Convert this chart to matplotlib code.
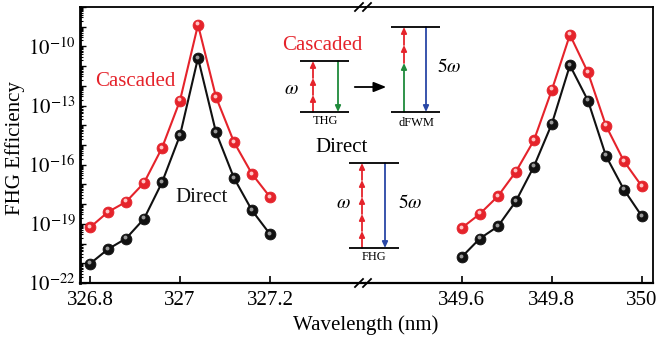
import matplotlib
matplotlib.use("Agg")
import matplotlib.pyplot as plt
import matplotlib.transforms as mtransforms
from matplotlib.ticker import FixedLocator, FuncFormatter, LogLocator, NullFormatter
from matplotlib.patches import FancyArrowPatch
import numpy as np

plt.rcParams.update({
    "font.family": "serif",
    "font.serif": ["Liberation Serif", "DejaVu Serif"],
    "mathtext.fontset": "stix",
    "font.size": 15,
})

# wavelength grids (nm)
wl_left = [326.80, 326.84, 326.88, 326.92, 326.96, 327.00, 327.04, 327.08, 327.12, 327.16, 327.20]
wl_right = [349.60, 349.64, 349.68, 349.72, 349.76, 349.80, 349.84, 349.88, 349.92, 349.96, 350.00]

# FHG efficiency, cascaded (THG + dFWM) and direct
casc_left = [6.6e-20, 4.0e-19, 1.3e-18, 1.2e-17, 7.1e-16, 1.8e-13, 1.26e-9, 2.7e-13, 1.4e-15, 3.4e-17, 2.3e-18]
direct_left = [9.5e-22, 5.2e-21, 1.8e-20, 1.8e-19, 1.26e-17, 3.1e-15, 2.6e-11, 4.4e-15, 2.1e-17, 4.8e-19, 3.0e-20]
casc_right = [6.2e-20, 3.2e-19, 2.5e-18, 4.4e-17, 1.7e-15, 6.3e-13, 3.9e-10, 4.8e-12, 9.5e-15, 1.5e-16, 7.9e-18]
direct_right = [2.1e-21, 1.8e-20, 7.4e-20, 1.4e-18, 8.1e-17, 1.2e-14, 1.1e-11, 1.8e-13, 2.8e-16, 5.4e-18, 2.4e-19]

xticks_left = [326.8, 327.0, 327.2]
xlabels_left = ["326.8", "327", "327.2"]
xticks_right = [349.6, 349.8, 350.0]
xlabels_right = ["349.6", "349.8", "350"]

RED = "#e5232b"
BLACK = "#111111"
GREEN = "#1f8a3b"
BLUE = "#2947a6"

W, H = 657, 344
fig = plt.figure(figsize=(W / 100, H / 100), dpi=100)


def px(x0, y0, x1, y1):
    # pixel box (left, top, right, bottom) -> figure fraction rect
    return [x0 / W, 1 - y1 / H, (x1 - x0) / W, (y1 - y0) / H]


ax1 = fig.add_axes(px(80, 7, 366, 283))
ax2 = fig.add_axes(px(366, 7, 653, 283))


def glossy(ax, x, y, color, hl):
    ax.plot(x, y, "-", color=color, lw=1.5, zorder=2)
    ax.plot(x, y, "o", ms=7.8, mfc=color, mec=color, mew=0.6, zorder=3)
    shift = mtransforms.offset_copy(ax.transData, fig=fig, x=-1.3, y=1.4, units="dots")
    ax.plot(x, y, "o", ms=2.8, mfc=hl, mec="none", transform=shift, zorder=4)


for ax, wl, c, d in [(ax1, wl_left, casc_left, direct_left),
                     (ax2, wl_right, casc_right, direct_right)]:
    ax.set_yscale("log")
    ax.set_ylim(1e-22, 1e-8)
    glossy(ax, wl, d, BLACK, "#9a9a9a")
    glossy(ax, wl, c, RED, "#ffc4c4")
    for s in ax.spines.values():
        s.set_linewidth(1.3)
    ax.tick_params(axis="x", direction="in", length=5, width=1.2, pad=6, labelsize=15)

ax1.set_xlim(326.8 - 10 / 450, 326.8 + 276 / 450)
ax2.set_xlim(349.6 - 95.7 / 450, 350.0 + 11 / 450)
ax1.set_xticks(xticks_left, xlabels_left)
ax2.set_xticks(xticks_right, xlabels_right)

ax1.spines["right"].set_visible(False)
ax2.spines["left"].set_visible(False)
ax1.spines["left"].set_linewidth(2.0)
ax1.spines["bottom"].set_linewidth(1.6)
ax2.spines["bottom"].set_linewidth(1.6)

# decades on the left axis, labels every third decade
ax1.yaxis.set_major_locator(FixedLocator([10.0 ** e for e in range(-22, -7)]))
ax1.yaxis.set_major_formatter(FuncFormatter(
    lambda v, p: r"$10^{%d}$" % round(np.log10(v)) if round(np.log10(v)) in (-22, -19, -16, -13, -10) else ""))
ax1.yaxis.set_minor_locator(LogLocator(base=10, subs=np.arange(2, 10), numticks=40))
ax1.yaxis.set_minor_formatter(NullFormatter())
ax1.tick_params(axis="y", which="major", direction="in", length=4.5, width=1.0, labelsize=15, pad=3)
ax1.tick_params(axis="y", which="minor", direction="in", length=2.5, width=0.8)
ax2.tick_params(axis="y", which="both", left=False, labelleft=False)

ax1.text(326.90, 1.6e-12, "Cascaded", color=RED, fontsize=15, ha="center", va="center")
ax1.text(327.049, 2.1e-18, "Direct", color=BLACK, fontsize=15, ha="center", va="center")

fig.text(15 / W, 1 - 148 / H, "FHG Efficiency", rotation=90, ha="center", va="center", fontsize=15)
fig.text(366 / W, 1 - 325 / H, "Wavelength (nm)", ha="center", va="center", fontsize=15)

# overlay in pixel units for the energy-level sketches and axis breaks
ov = fig.add_axes([0, 0, 1, 1], zorder=5)
ov.set_xlim(0, W)
ov.set_ylim(H, 0)
ov.axis("off")
ov.patch.set_alpha(0)


def level(x0, x1, y):
    ov.plot([x0, x1], [y, y], color="black", lw=1.3, solid_capstyle="butt")


def arrow(x, y0, y1, color, heads=1):
    ys = np.linspace(y0, y1, heads + 1)
    for a, b in zip(ys[:-1], ys[1:]):
        ov.add_patch(FancyArrowPatch((x, a), (x, b), arrowstyle="-|>,head_length=3.5,head_width=1.6",
                                     color=color, lw=1.3, shrinkA=0, shrinkB=0,
                                     mutation_scale=1))


# THG step
level(300, 349, 61)
level(300, 349, 112)
arrow(313, 112, 61, RED, heads=3)
arrow(338, 61, 112, GREEN)
ov.text(291, 90, r"$\omega$", fontsize=14, ha="center", va="center")
ov.text(325, 121, "THG", fontsize=9, ha="center", va="center")
ov.text(322, 45, "Cascaded", color=RED, fontsize=15, ha="center", va="center")
ov.annotate("", xy=(389, 87), xytext=(352, 87),
            arrowprops=dict(arrowstyle="-|>,head_length=0.5,head_width=0.2", color="black", lw=1.3))

# dFWM step
level(391, 440, 27)
level(391, 440, 112)
arrow(404, 112, 63, GREEN)
arrow(404, 63, 27, RED, heads=2)
arrow(426, 27, 112, BLUE)
ov.text(449, 67, r"$5\omega$", fontsize=14, ha="center", va="center")
ov.text(416, 123, "dFWM", fontsize=9, ha="center", va="center")

# direct FHG
ov.text(342, 148, "Direct", fontsize=15, ha="center", va="center")
level(349, 399, 163)
level(349, 399, 248)
arrow(362, 248, 163, RED, heads=5)
arrow(385, 163, 248, BLUE)
ov.text(343, 203, r"$\omega$", fontsize=14, ha="center", va="center")
ov.text(410, 203, r"$5\omega$", fontsize=14, ha="center", va="center")
ov.text(374, 257, "FHG", fontsize=9, ha="center", va="center")

# axis-break marks
for yb in (7, 283):
    for dx in (-5, 3):
        ov.plot([360 + dx, 368 + dx], [yb + 4, yb - 4], color="black", lw=1.3)

fig.savefig("out.png", dpi=100)
